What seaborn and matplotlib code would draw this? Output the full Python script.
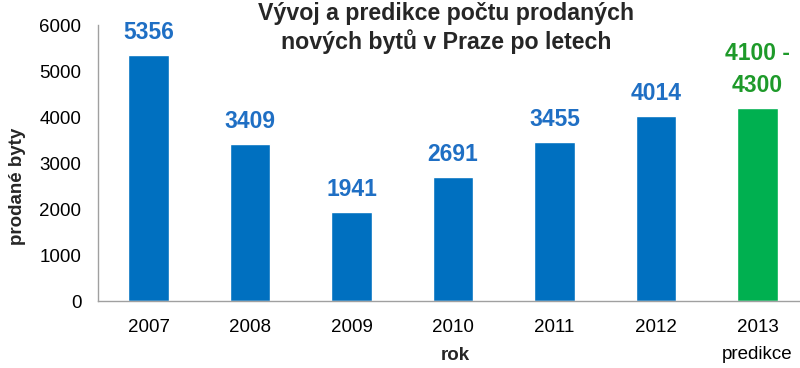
import matplotlib
matplotlib.use("Agg")
import matplotlib.pyplot as plt
import seaborn as sns
import pandas as pd

years = ["2007", "2008", "2009", "2010", "2011", "2012", "2013\npredikce"]
values = [5356, 3409, 1941, 2691, 3455, 4014, 4200]
labels = ["5356", "3409", "1941", "2691", "3455", "4014", "4100 -\n4300"]
bar_colors = ["#0070C0"] * 6 + ["#00B050"]
label_colors = ["#1F6FC4"] * 6 + ["#1E9A2A"]

sns.set_theme(style="white")
plt.rcParams['font.family'] = ['Liberation Sans', 'DejaVu Sans']

df = pd.DataFrame({"rok": years, "prodane": values})

fig = plt.figure(figsize=(8, 3.68), dpi=100)
ax = fig.add_axes([98/800, 1 - 301/368, 1 - 98/800, 276/368])
sns.barplot(data=df, x="rok", y="prodane", hue="rok", palette=bar_colors,
            width=0.4, legend=False, ax=ax, saturation=1)

ax.set_ylim(0, 6000)
ax.set_yticks(range(0, 6001, 1000))
ax.set_xlim(-0.5, 6.42)
for s in ["top", "right"]:
    ax.spines[s].set_visible(False)
for s in ["left", "bottom"]:
    ax.spines[s].set_color("#A0A0A0")
    ax.spines[s].set_linewidth(1)
ax.tick_params(axis="y", labelsize=13.5, colors="black", length=0, pad=12)
ax.tick_params(axis="x", labelsize=13.5, colors="black", length=0, pad=13)
for t in ax.get_xticklabels():
    t.set_linespacing(1.8)
    t.set_va("top")
ax.set_xlabel("rok", fontsize=13.5, fontweight="bold")
ax.xaxis.set_label_coords((455 - 98) / 702, (301 - 356) / 276)
ax.xaxis.label.set_va("center")
ax.set_ylabel("prodané byty", fontsize=13.5, fontweight="bold")
ax.yaxis.set_label_coords((18 - 98) / 702, (301 - 186) / 276)
ax.yaxis.label.set_va("center")

for i, (v, lab, c) in enumerate(zip(values, labels, label_colors)):
    ax.annotate(lab, (i, v), xytext=(0, 8), textcoords="offset points",
                ha="center", va="bottom", fontsize=16.5, fontweight="bold",
                color=c, linespacing=1.5)

fig.text(446/800, 1 - 28/368, "Vývoj a predikce počtu prodaných\nnových bytů v Praze po letech",
         ha="center", va="center", fontsize=16.7, fontweight="bold", linespacing=1.25)

fig.savefig("out.png", dpi=100)
